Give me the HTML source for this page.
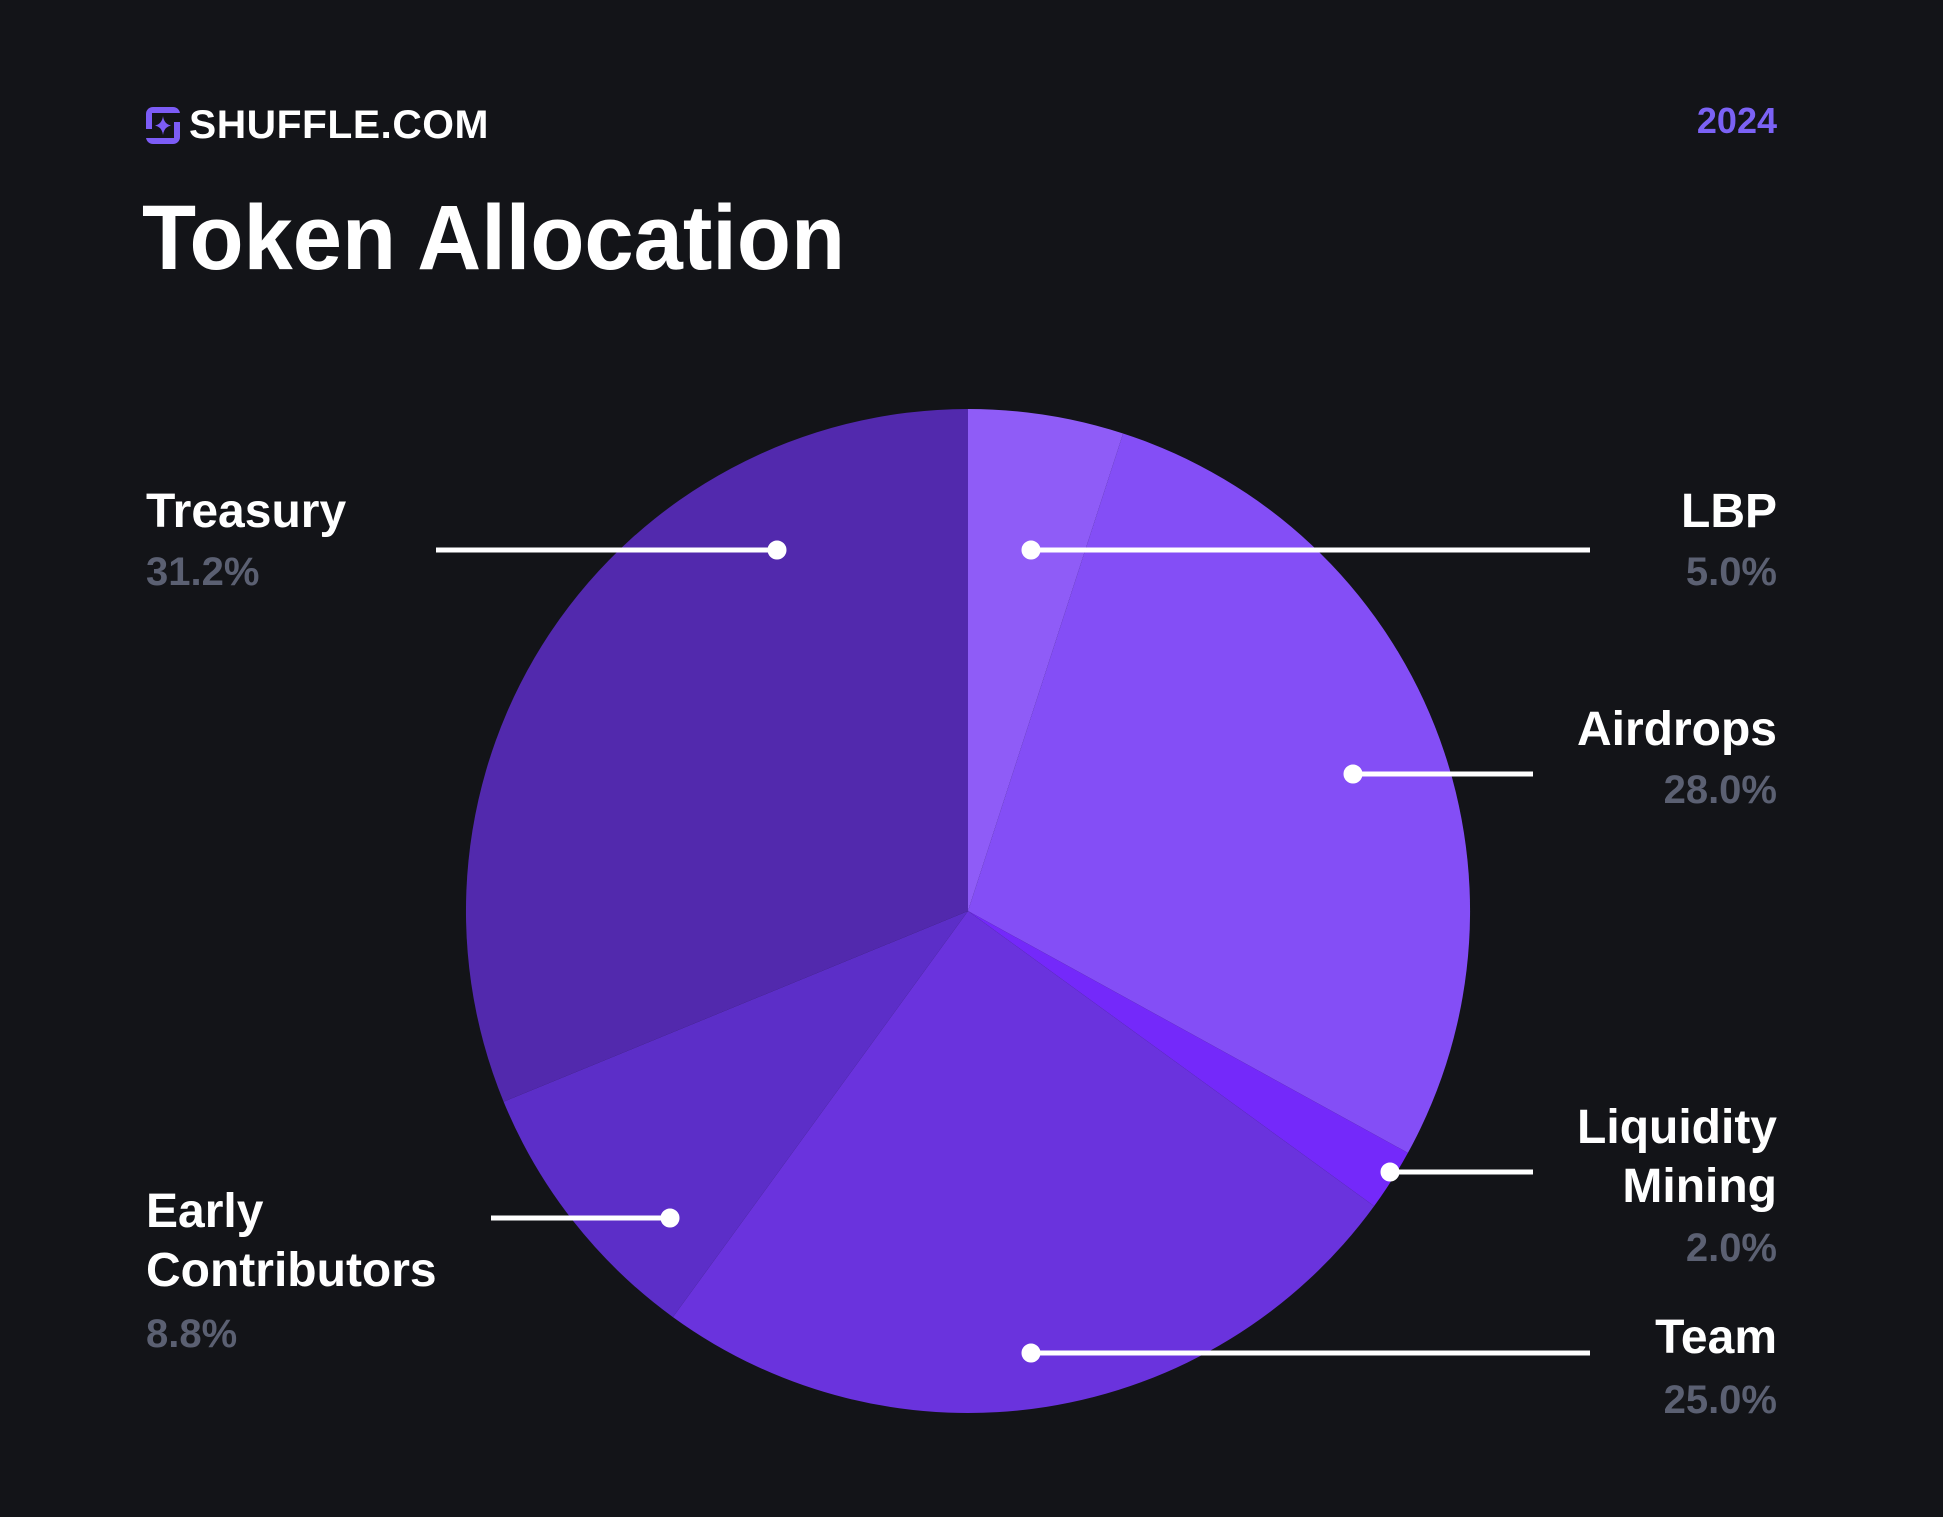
<!DOCTYPE html>
<html><head><meta charset="utf-8"><style>
html,body{margin:0;padding:0;background:#131418;}
svg{display:block}
text{font-family:"Liberation Sans",Arial,sans-serif;font-weight:bold}
</style></head><body>
<svg width="1943" height="1517" viewBox="0 0 1943 1517" xmlns="http://www.w3.org/2000/svg">
<rect width="1943" height="1517" fill="#131418"/>
<!-- logo -->
<rect x="146" y="107" width="34" height="37" rx="7" fill="#7c5cf6"/>
<rect x="152" y="113" width="28" height="9" fill="#131418"/>
<rect x="146" y="129" width="28" height="9" fill="#131418"/>
<rect x="152" y="113" width="22" height="25" fill="#131418"/>
<path d="M163 116 Q164 124 171 125.5 Q164 127 163 135 Q162 127 155 125.5 Q162 124 163 116Z" fill="#7c5cf6"/>
<text x="189" y="138" font-size="40" fill="#ffffff" style="font-weight:600;letter-spacing:0.5px" textLength="300" lengthAdjust="spacingAndGlyphs">SHUFFLE.COM</text>
<text x="1777" y="133" font-size="36" fill="#7b62f5" text-anchor="end">2024</text>
<text x="142" y="269" font-size="92" fill="#ffffff" textLength="703" lengthAdjust="spacingAndGlyphs">Token Allocation</text>
<!-- pie -->
<path d="M968 911 L968 409 A502 502 0 0 1 1123.1 433.5 Z" fill="#8f5cf7"/>
<path d="M968 911 L1123.1 433.5 A502 502 0 0 1 1407.9 1152.9 Z" fill="#844ef6"/>
<path d="M968 911 L1407.9 1152.9 A502 502 0 0 1 1374.1 1206.1 Z" fill="#7429fa"/>
<path d="M968 911 L1374.1 1206.1 A502 502 0 0 1 672.9 1317.1 Z" fill="#6a33dd"/>
<path d="M968 911 L672.9 1317.1 A502 502 0 0 1 503.6 1101.7 Z" fill="#5c2ec8"/>
<path d="M968 911 L503.6 1101.7 A502 502 0 0 1 968 409 Z" fill="#5229ad"/>
<!-- leader lines -->
<g stroke="#ffffff" stroke-width="5" fill="#ffffff">
<line x1="436" y1="550" x2="777" y2="550"/><circle cx="777" cy="550" r="7"/>
<line x1="1031" y1="550" x2="1590" y2="550"/><circle cx="1031" cy="550" r="7"/>
<line x1="1353" y1="774" x2="1533" y2="774"/><circle cx="1353" cy="774" r="7"/>
<line x1="1390" y1="1172" x2="1533" y2="1172"/><circle cx="1390" cy="1172" r="7"/>
<line x1="1031" y1="1353" x2="1590" y2="1353"/><circle cx="1031" cy="1353" r="7"/>
<line x1="491" y1="1218" x2="670" y2="1218"/><circle cx="670" cy="1218" r="7"/>
</g>
<!-- labels -->
<g font-size="48" fill="#ffffff">
<text x="146" y="527">Treasury</text>
<text x="1777" y="527" text-anchor="end">LBP</text>
<text x="1777" y="745" text-anchor="end">Airdrops</text>
<text x="1777" y="1143" text-anchor="end">Liquidity</text>
<text x="1777" y="1202" text-anchor="end">Mining</text>
<text x="1777" y="1353" text-anchor="end">Team</text>
<text x="146" y="1227">Early</text>
<text x="146" y="1286">Contributors</text>
</g>
<g font-size="40" fill="#5b6072">
<text x="146" y="585">31.2%</text>
<text x="1777" y="585" text-anchor="end">5.0%</text>
<text x="1777" y="803" text-anchor="end">28.0%</text>
<text x="1777" y="1261" text-anchor="end">2.0%</text>
<text x="1777" y="1413" text-anchor="end">25.0%</text>
<text x="146" y="1347">8.8%</text>
</g>
</svg>
</body></html>
